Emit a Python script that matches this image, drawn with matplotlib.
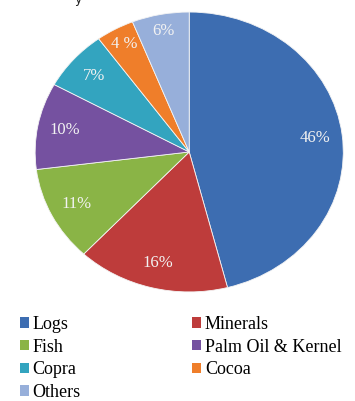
import numpy as np
import matplotlib.pyplot as plt
from matplotlib.patches import Patch

# export shares by commodity
products = ['Logs', 'Minerals', 'Fish', 'Palm Oil & Kernel', 'Copra', 'Cocoa', 'Others']
shares = [46, 16, 11, 10, 7, 4, 6]
pct_labels = ['46%', '16%', '11%', '10%', '7%', '4 %', '6%']
colors = ['#3d6db1', '#be3c3b', '#8ab446', '#7551a0', '#33a4bf', '#ef7e2a', '#97afda']

fig = plt.figure(figsize=(3.55, 4.01), dpi=100)

# pie area (slightly wider than tall, like the printed chart)
ax = fig.add_axes([0.099, 0.272, 0.868, 0.698])
wedges, texts = ax.pie(shares, colors=colors, startangle=90, counterclock=False,
                       wedgeprops=dict(edgecolor='#f4f4f4', linewidth=0.6))
ax.set_aspect('auto')
ax.set_xlim(-1.0, 1.0)
ax.set_ylim(-1.0, 1.0)

# percentage labels inside the wedges, small slices pushed a bit outward
for w, lab, s in zip(wedges, pct_labels, shares):
    ang = np.deg2rad((w.theta1 + w.theta2) / 2)
    r = 0.88 if s < 7 else 0.82
    ax.text(r * np.cos(ang), r * np.sin(ang), lab, ha='center', va='center',
            color='#f2f2f2', fontsize=12, family='Liberation Serif')

# clipped caption fragment at the top edge
fig.text(0.22, 1.0, 'y', ha='center', va='center', fontsize=9, color='#222222')

# legend filled row by row: reorder for matplotlib's column-first layout
order = [0, 2, 4, 6, 1, 3, 5]
handles = [Patch(facecolor=colors[i], edgecolor='none') for i in order]
labels = [products[i] for i in order]
fig.legend(handles, labels, loc='upper left', bbox_to_anchor=(0.035, 0.23),
           ncol=2, frameon=False, prop={'family': 'Liberation Serif', 'size': 13},
           handlelength=0.5, handleheight=0.5, handletextpad=0.2,
           columnspacing=6.2, labelspacing=0.31, borderaxespad=0)

fig.savefig('out.png', dpi=100)
